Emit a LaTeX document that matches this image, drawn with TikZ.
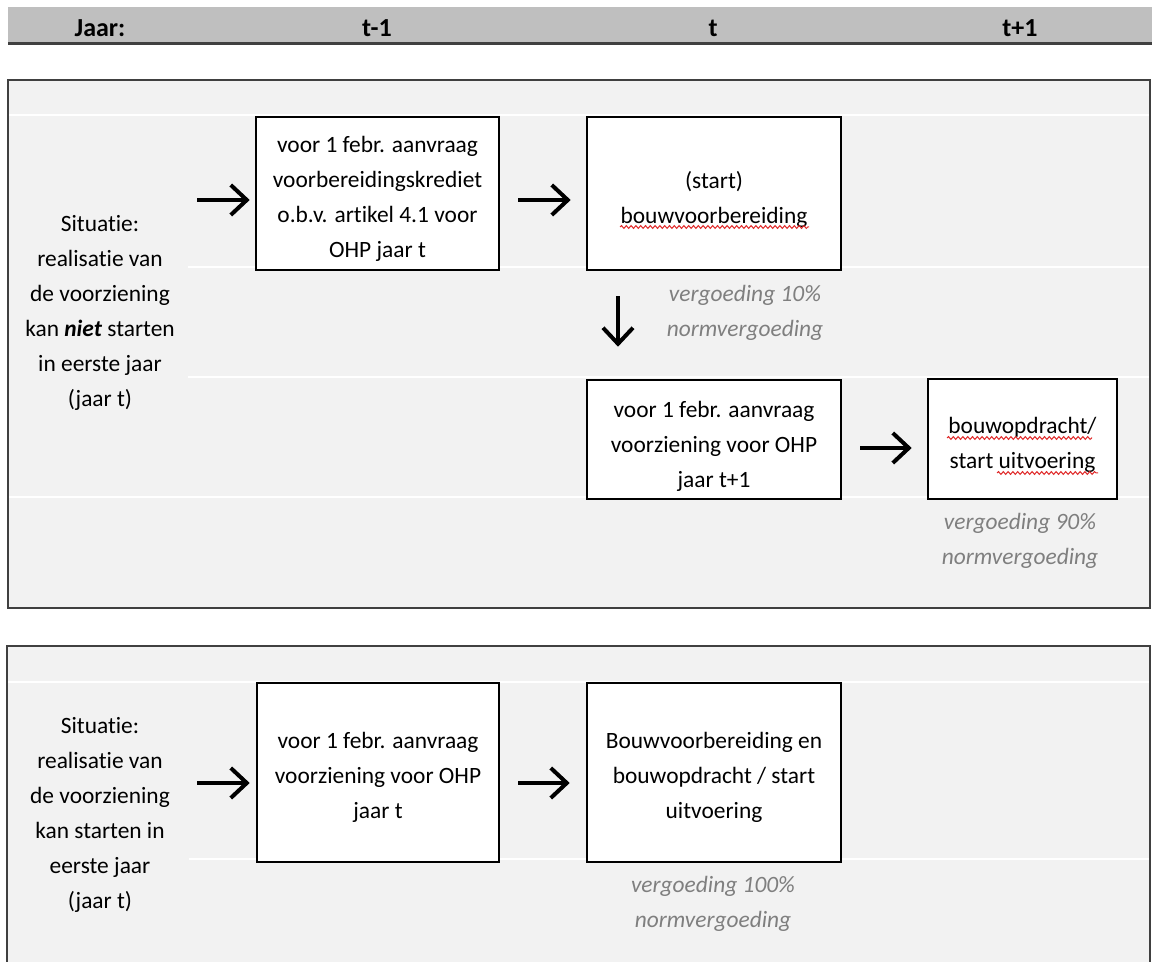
\documentclass[tikz,border=0pt]{standalone}
\usepackage{fontspec}
\setmainfont{Carlito}[Ligatures={NoCommon,NoContextual}]
\usetikzlibrary{arrows.meta,decorations.pathmorphing}
\definecolor{panel}{HTML}{F2F2F2}
\definecolor{hdr}{HTML}{BFBFBF}
\definecolor{framec}{HTML}{404040}
\definecolor{notegray}{HTML}{7F7F7F}
\definecolor{squigc}{HTML}{E02828}
\begin{document}
\begin{tikzpicture}[x=0.5pt,y=-0.5pt,
  box/.style={draw=black, line width=1.3pt, fill=white, inner sep=0pt},
  txt/.style={align=center, inner sep=0pt, font=\fontsize{11.7}{17.5}\selectfont},
  notetxt/.style={align=center, inner sep=0pt, text=notegray, font=\fontsize{11.7}{17.5}\selectfont\itshape},
  hdrtxt/.style={inner sep=0pt, font=\fontsize{13}{15}\selectfont\bfseries},
  arr/.style={line width=1.6pt, -{Straight Barb[length=8pt,width=15pt,line width=2pt]}},
  wl/.style={white, line width=1.2pt},
  squiggle/.style={squigc, line width=0.5pt, decorate, decoration={snake, amplitude=0.7pt, segment length=2.4pt}},
  panelbox/.style={draw=framec, line width=1pt, fill=panel}
]
\useasboundingbox (0,0) rectangle (1152,962);

% header bar
\fill[hdr] (8,7) rectangle (1152,43);
\draw[framec, line width=1.2pt] (8,43.5) -- (1152,43.5);
\node[hdrtxt] (hJaar) at (100,28) {Jaar:};
\node[hdrtxt] (hT1) at (377,28) {t-1};
\node[hdrtxt] (hT) at (713,28) {t};
\node[hdrtxt] (hT2) at (1020,28) {t+1};

% top panel
\draw[panelbox] (8,80) rectangle (1150,608);
\draw[wl] (9,115) -- (1149,115);
\draw[wl] (188,267) -- (1149,267);
\draw[wl] (188,377) -- (1149,377);
\draw[wl] (9,497) -- (1149,497);

\node[txt] (s1) at (100,313) {Situatie:\\realisatie van\\de voorziening\\kan \textbf{\textit{niet}} starten\\in eerste jaar\\(jaar t)};

\node[box, minimum width=121.5pt, minimum height=76.5pt] (b1) at (377.5,193.5) {};
\node[txt] (t1) at (377.5,198.5) {voor 1 febr. aanvraag\\voorbereidingskrediet\\o.b.v. artikel 4.1 voor\\OHP jaar t};

\node[box, minimum width=127pt, minimum height=76.5pt] (b2) at (714,193.5) {};
\node[txt] (t2) at (714,199.5) {(start)\\bouwvoorbereiding};

\node[box, minimum width=127pt, minimum height=59.5pt] (b3) at (714,439.5) {};
\node[txt] (t3) at (714,446) {voor 1 febr. aanvraag\\voorziening voor OHP\\jaar t+1};

\node[box, minimum width=94.5pt, minimum height=60pt] (b4) at (1022.5,439) {};
\node[txt] (t4) at (1022.5,444.5) {bouwopdracht/\\start uitvoering};

\node[notetxt] (n1) at (745,313) {vergoeding 10\%\\normvergoeding};
\node[notetxt] (n2) at (1020,541) {vergoeding 90\%\\normvergoeding};

% spell-check squiggles
\draw[squiggle] (620,227) -- (809,227);
\draw[squiggle] (947,438) -- (1092,438);
\draw[squiggle] (997,473) -- (1098,473);

% arrows top
\coordinate (a1) at (197,200);
\draw[arr, shorten >=2.5pt] (a1) -- (a1 -| b1.west);
\coordinate (a2) at (0,200);
\draw[arr, shorten <=9pt, shorten >=7.5pt] (a2 -| b1.east) -- (a2 -| b2.west);
\coordinate (a3) at (618,0);
\draw[arr, shorten <=12.5pt, shorten >=16pt] (a3 |- b2.south) -- (a3 |- b3.north);
\coordinate (a4) at (0,448);
\draw[arr, shorten <=9pt, shorten >=7.5pt] (a4 -| b3.east) -- (a4 -| b4.west);

% bottom panel
\draw[panelbox] (7,646) rectangle (1150,980);
\draw[wl] (8,682) -- (1149,682);
\draw[wl] (189,859) -- (1149,859);

\node[txt] (s2) at (100,815) {Situatie:\\realisatie van\\de voorziening\\kan starten in\\eerste jaar\\(jaar t)};

\node[box, minimum width=121pt, minimum height=89.5pt] (b5) at (378,772.5) {};
\node[txt] (t5) at (378,777) {voor 1 febr. aanvraag\\voorziening voor OHP\\jaar t};

\node[box, minimum width=127pt, minimum height=89.5pt] (b6) at (714,772.5) {};
\node[txt] (t6) at (714,777) {Bouwvoorbereiding en\\bouwopdracht / start\\uitvoering};

\node[notetxt] (n3) at (713,904) {vergoeding 100\%\\normvergoeding};

\coordinate (a5) at (197,783);
\draw[arr, shorten >=3pt] (a5) -- (a5 -| b5.west);
\coordinate (a6) at (0,783);
\draw[arr, shorten <=9pt, shorten >=8pt] (a6 -| b5.east) -- (a6 -| b6.west);
\end{tikzpicture}
\end{document}
